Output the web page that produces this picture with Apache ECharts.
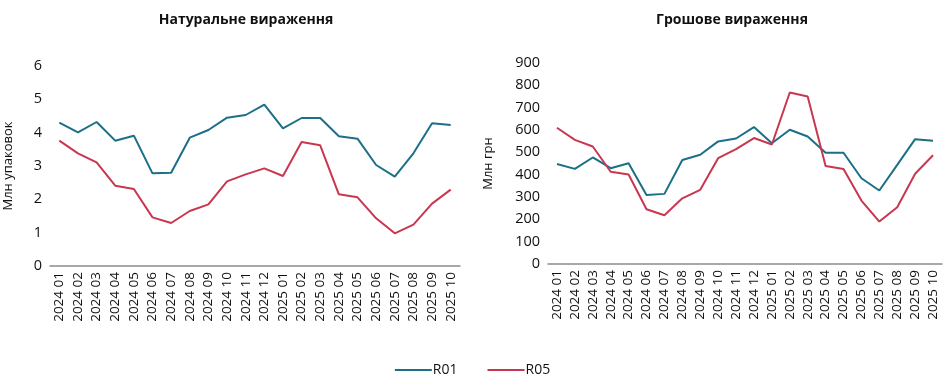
<!DOCTYPE html>
<html><head><meta charset="utf-8">
<script src="https://cdn.jsdelivr.net/npm/echarts@6/dist/echarts.min.js"></script>
<style>html,body{margin:0;padding:0;background:#fff}#c{width:945px;height:384px}</style>
</head><body><div id="c"></div>
<script>
const categories = ['2024 01','2024 02','2024 03','2024 04','2024 05','2024 06','2024 07','2024 08','2024 09','2024 10','2024 11','2024 12','2025 01','2025 02','2025 03','2025 04','2025 05','2025 06','2025 07','2025 08','2025 09','2025 10'];
const volR01 = [4.30,4.01,4.32,3.76,3.91,2.78,2.80,3.85,4.08,4.45,4.53,4.84,4.13,4.44,4.44,3.89,3.82,3.03,2.68,3.38,4.28,4.23];
const volR05 = [3.76,3.38,3.11,2.41,2.31,1.46,1.29,1.65,1.85,2.54,2.75,2.93,2.70,3.72,3.62,2.15,2.06,1.43,0.98,1.24,1.87,2.29];
const valR01 = [448,426,477,429,451,309,314,466,489,549,562,613,541,601,571,498,498,384,329,444,559,552];
const valR05 = [610,556,526,413,401,245,218,294,332,474,514,564,535,768,750,439,425,284,190,254,404,487];
const titles = ['Натуральне вираження','Грошове вираження'];
const yNames = ['Млн упаковок','Млн грн'];
const seriesNames = ['R01','R05'];

const FONT = '"Open Sans", sans-serif';
const C1 = '#1b6f87', C2 = '#c93650';
const chart = echarts.init(document.getElementById('c'));
function xAxis(i){return {type:'category',gridIndex:i,data:categories,boundaryGap:true,
  axisLine:{lineStyle:{color:'#8c8c8c',width:1.5}},axisTick:{show:false},
  axisLabel:{rotate:90,interval:0,color:'#111',fontSize:13.5,fontFamily:FONT,margin:6}};}
function yAxis(i,max,interval,gap){return {type:'value',gridIndex:i,min:0,max:max,interval:interval,
  name:yNames[i],nameLocation:'middle',nameGap:gap,nameTextStyle:{color:'#111',fontSize:13,fontFamily:FONT},
  axisLine:{show:false},axisTick:{show:false},splitLine:{show:false},
  axisLabel:{color:'#111',fontSize:14.5,fontFamily:FONT,margin:8}};}
chart.setOption({
  animation:false,
  title:[
    {text:titles[0],left:241,top:8,textAlign:'center',textStyle:{fontSize:14,fontWeight:'bold',color:'#111',fontFamily:FONT}},
    {text:titles[1],left:727,top:8,textAlign:'center',textStyle:{fontSize:14,fontWeight:'bold',color:'#111',fontFamily:FONT}}
  ],
  legend:{top:358,left:'center',itemGap:30,itemWidth:37,itemHeight:2,icon:'rect',
    textStyle:{color:'#111',fontSize:14,fontFamily:FONT,padding:[0,0,0,-4]},data:seriesNames},
  grid:[{left:50,top:66,width:410,height:200},{left:548,top:63,width:394,height:201}],
  xAxis:[xAxis(0),xAxis(1)],
  yAxis:[yAxis(0,6,1,35),yAxis(1,900,100,53)],
  series:[
    {name:'R01',type:'line',xAxisIndex:0,yAxisIndex:0,data:volR01,symbol:'none',lineStyle:{color:C1,width:2},itemStyle:{color:C1}},
    {name:'R05',type:'line',xAxisIndex:0,yAxisIndex:0,data:volR05,symbol:'none',lineStyle:{color:C2,width:2},itemStyle:{color:C2}},
    {name:'R01',type:'line',xAxisIndex:1,yAxisIndex:1,data:valR01,symbol:'none',lineStyle:{color:C1,width:2},itemStyle:{color:C1}},
    {name:'R05',type:'line',xAxisIndex:1,yAxisIndex:1,data:valR05,symbol:'none',lineStyle:{color:C2,width:2},itemStyle:{color:C2}}
  ]
});
</script></body></html>
